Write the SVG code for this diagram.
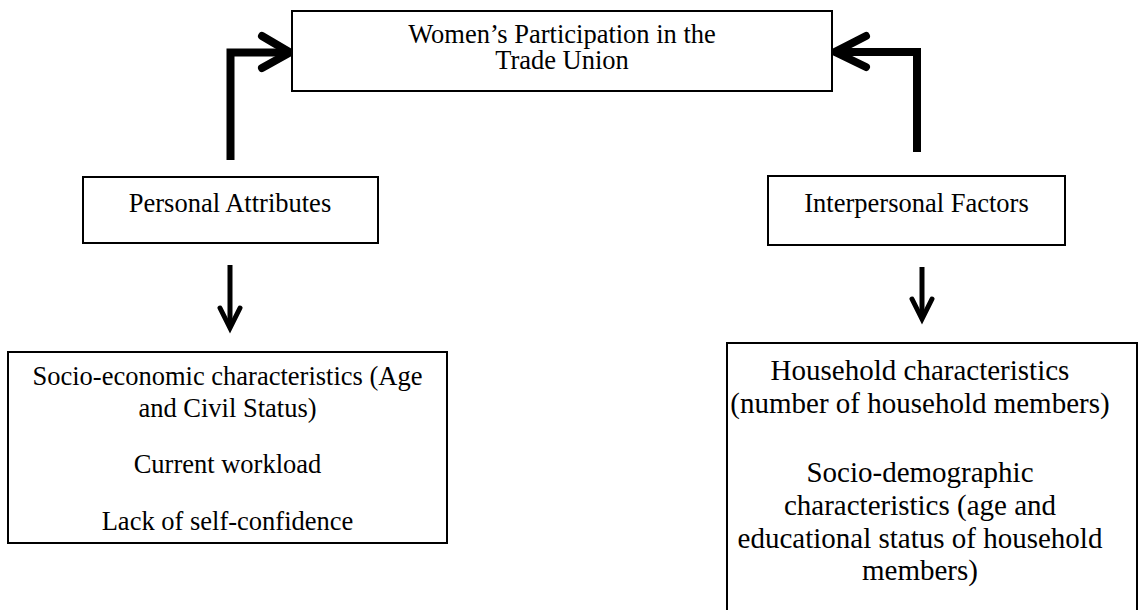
<svg xmlns="http://www.w3.org/2000/svg" width="1139" height="610" viewBox="0 0 1139 610">
  <style>
    .box { fill: #ffffff; stroke: #000000; stroke-width: 2; }
    .t { font-family: "Liberation Serif", "Times New Roman", serif; fill: #000000; text-anchor: middle; }
    .s1 { font-size: 26.5px; }
    .s2 { font-size: 29px; }
    .thick { fill: none; stroke: #000000; stroke-width: 8; }
    .thin { fill: none; stroke: #000000; stroke-width: 5; }
  </style>
  <rect width="1139" height="610" fill="#ffffff"/>
  <g id="connectors">
    <path class="thick" d="M230.5,160 V52.5 H288" stroke-linejoin="miter"/>
    <path class="thick" d="M262,36 L290,52.5 L262,68" stroke-linecap="round" stroke-linejoin="miter"/>
    <path class="thick" d="M917,152 V52 H837" stroke-linejoin="miter"/>
    <path class="thick" d="M866,36 L835,52 L866,67" stroke-linecap="round" stroke-linejoin="miter"/>
    <path class="thin" d="M230,265 V327"/>
    <path class="thin" d="M220,308 L230,328 L240,308" stroke-linecap="round"/>
    <path class="thin" d="M922,267 V318"/>
    <path class="thin" d="M912,299 L922,319 L932,299" stroke-linecap="round"/>
  </g>
  <g id="node-participation">
    <rect class="box" x="292" y="11" width="540" height="80"/>
    <text class="t s1" x="562" y="43">Women’s Participation in the</text>
    <text class="t s1" x="562" y="69">Trade Union</text>
  </g>
  <g id="node-personal">
    <rect class="box" x="83" y="177" width="295" height="66"/>
    <text class="t s1" x="230" y="212">Personal Attributes</text>
  </g>
  <g id="node-interpersonal">
    <rect class="box" x="768" y="176" width="297" height="69"/>
    <text class="t s1" x="916.5" y="212">Interpersonal Factors</text>
  </g>
  <g id="node-personal-details">
    <rect class="box" x="8" y="352" width="439" height="191"/>
    <text class="t s1" x="227.5" y="385">Socio-economic characteristics (Age</text>
    <text class="t s1" x="227.5" y="417">and Civil Status)</text>
    <text class="t s1" x="227.5" y="473">Current workload</text>
    <text class="t s1" x="227.5" y="530">Lack of self-confidence</text>
  </g>
  <g id="node-interpersonal-details">
    <rect class="box" x="727" y="343" width="410" height="280"/>
    <text class="t s2" x="920" y="380">Household characteristics</text>
    <text class="t s2" x="920" y="413">(number of household members)</text>
    <text class="t s2" x="920" y="482">Socio-demographic</text>
    <text class="t s2" x="920" y="515">characteristics (age and</text>
    <text class="t s2" x="920" y="548">educational status of household</text>
    <text class="t s2" x="920" y="580">members)</text>
  </g>
</svg>
